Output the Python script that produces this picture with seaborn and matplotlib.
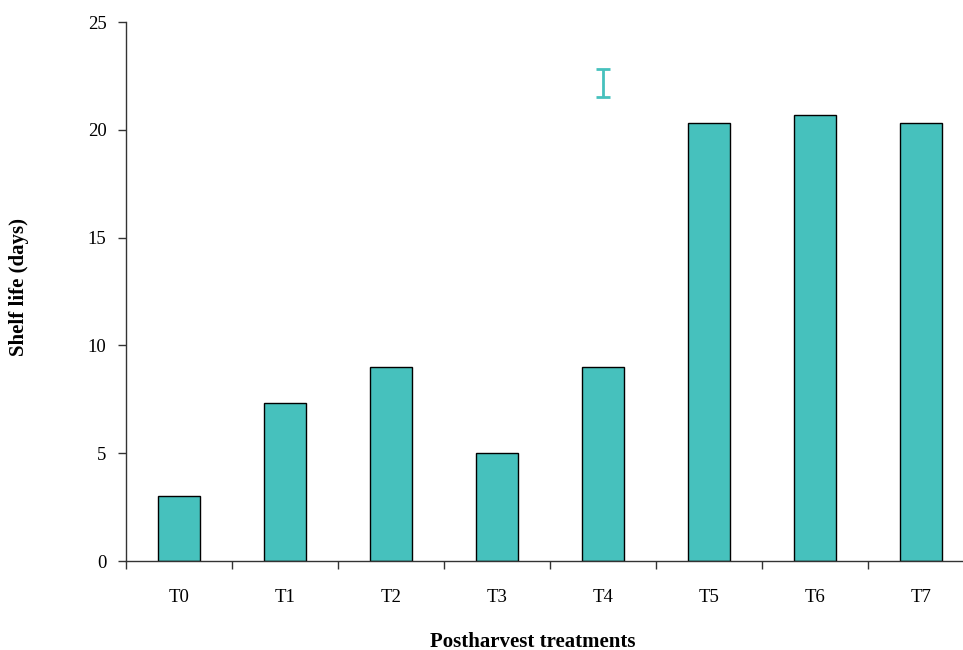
import seaborn as sns
import matplotlib.pyplot as plt
import pandas as pd
from matplotlib.ticker import MultipleLocator, FixedLocator

treatments = ['T0', 'T1', 'T2', 'T3', 'T4', 'T5', 'T6', 'T7']
shelf_life = [3.0, 7.33, 9.0, 5.0, 9.0, 20.33, 20.67, 20.33]
# LSD bar shown above T4
lsd_pos = ['T4']
lsd_mid = [22.17]
lsd_half = [0.65]

teal = '#46c1bd'
df = pd.DataFrame({'treatment': treatments, 'days': shelf_life})

sns.set_style('white')
plt.rcParams['font.family'] = ['Liberation Serif', 'DejaVu Serif']
plt.rcParams['text.color'] = 'black'
plt.rcParams['axes.labelcolor'] = 'black'
plt.rcParams['xtick.labelcolor'] = 'black'
plt.rcParams['ytick.labelcolor'] = 'black'

fig = plt.figure(figsize=(9.63, 6.5), dpi=100)
ax = fig.add_axes([0.1308, 0.1369, 0.8806, 0.8292])

sns.barplot(data=df, x='treatment', y='days', order=treatments, color=teal,
            width=0.4, edgecolor='black', linewidth=1, saturation=1, ax=ax)
ax.errorbar([treatments.index(p) for p in lsd_pos], lsd_mid, yerr=lsd_half,
            fmt='none', ecolor=teal, elinewidth=2, capsize=5, capthick=2)

ax.set_xlim(-0.5, 7.5)
ax.set_ylim(0, 25)
ax.yaxis.set_major_locator(MultipleLocator(5))
ax.xaxis.set_minor_locator(FixedLocator([i - 0.5 for i in range(len(treatments))]))
ax.tick_params(axis='x', which='major', length=0, pad=20, labelsize=13.5, labelcolor='black')
ax.tick_params(axis='x', which='minor', length=6, width=1, color='#333333', direction='out', bottom=True)
ax.tick_params(axis='y', length=6, width=1, color='#333333', direction='out', left=True, pad=8,
               labelsize=13.5, labelcolor='black')

for s in ['top', 'right']:
    ax.spines[s].set_visible(False)
for s in ['left', 'bottom']:
    ax.spines[s].set_color('#333333')
    ax.spines[s].set_linewidth(1)

ax.set_xlabel('Postharvest treatments', fontsize=15, fontweight='bold', color='black')
ax.set_ylabel('Shelf life (days)', fontsize=15, fontweight='bold', color='black')
ax.xaxis.set_label_coords(0.48, -0.131)
ax.yaxis.set_label_coords(-0.114, 0.508)

fig.savefig('out.png', dpi=100)
